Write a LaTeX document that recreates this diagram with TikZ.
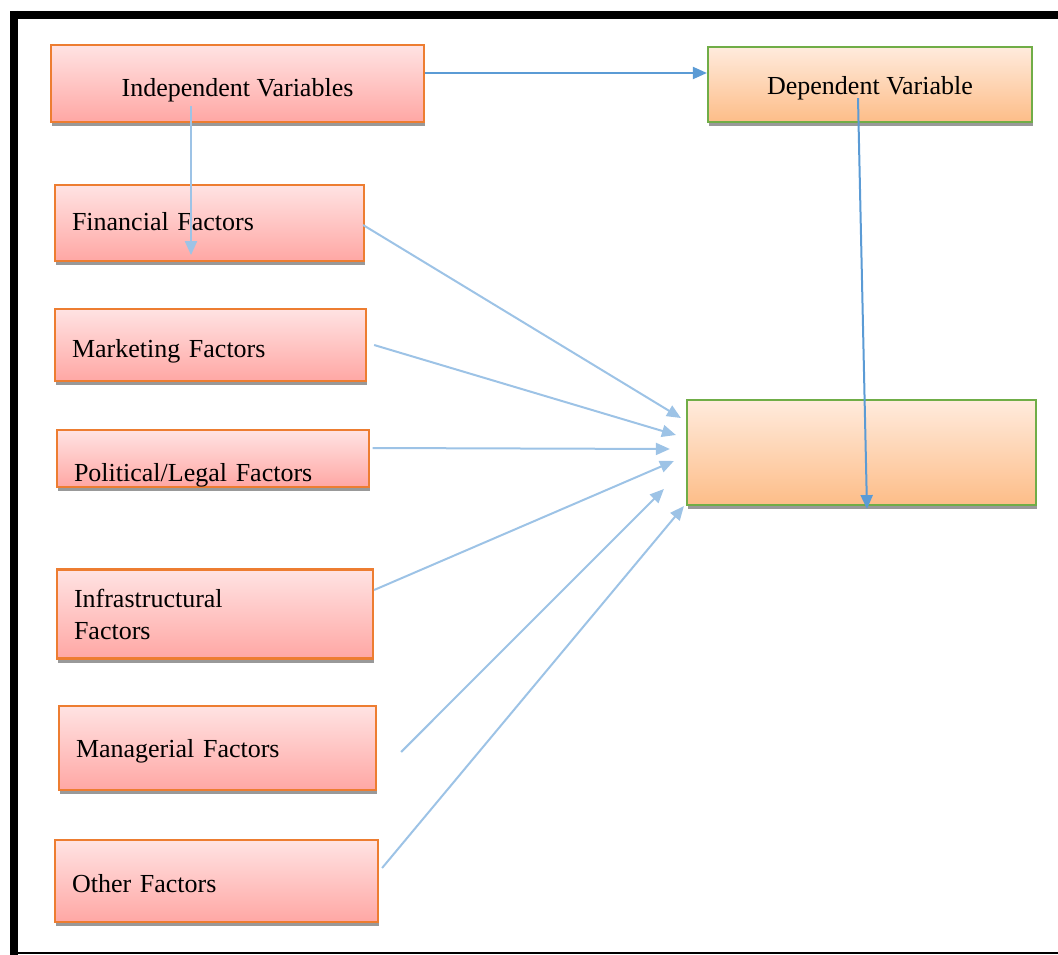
\documentclass[tikz,border=0pt]{standalone}
\usepackage{fontspec}
\setmainfont{Liberation Serif}
\usepackage{tikz}
\usetikzlibrary{calc,arrows.meta,shadows}
\definecolor{redtop}{HTML}{FFE3E3}
\definecolor{redbot}{HTML}{FFA7A4}
\definecolor{orgtop}{HTML}{FFEBDD}
\definecolor{orgbot}{HTML}{FDBD88}
\definecolor{redline}{HTML}{ED7D31}
\definecolor{grnline}{HTML}{70AD47}
\definecolor{lightarr}{HTML}{9DC3E6}
\definecolor{darkarr}{HTML}{5B9BD5}
\tikzset{
  box/.style={rectangle, line width=2.2pt, inner ysep=0pt,
    font=\fontsize{26}{32}\selectfont,
    drop shadow={shadow xshift=1pt, shadow yshift=-4pt, fill=black!40, opacity=1}},
  redbox/.style={box, draw=redline, top color=redtop, bottom color=redbot},
  orgbox/.style={box, draw=grnline, top color=orgtop, bottom color=orgbot},
  factor/.style={redbox, align=left, inner xsep=17pt, text width=#1},
  lowered/.style={text height=#1, text depth=6pt},
  arr/.style={draw=lightarr, line width=2pt, -{Triangle[length=14pt,width=12pt]}},
  darr/.style={arr, draw=darkarr},
}
\begin{document}
\begin{tikzpicture}[x=1pt, y=-1pt]
  \useasboundingbox (0,0) rectangle (1058,955);
  % frame
  \draw[line width=8pt] (10,15) -- (1058,15);
  \draw[line width=8pt] (14,11) -- (14,955);
  \draw[line width=2pt] (14,953) -- (1058,953);
  % top row
  \node[redbox, lowered=33pt, minimum width=373pt, minimum height=77pt] (iv) at (237.5,83.5) {Independent Variables};
  \node[orgbox, lowered=27pt, minimum width=324pt, minimum height=75pt] (dv) at (870,84.5) {Dependent Variable};
  \node[orgbox, minimum width=349pt, minimum height=105pt] (res) at (861.5,452.5) {};
  % factors
  \node[factor=275pt, lowered=20pt, minimum height=76pt] (fin) at (209.5,223) {Financial Factors};
  \node[factor=277pt, lowered=30pt, minimum height=72pt] (mkt) at (210.5,345) {Marketing Factors};
  \node[factor=278pt, lowered=51pt, minimum height=57pt] (pol) at (213,458.5) {Political/Legal Factors};
  \node[factor=282pt, minimum height=89pt] (inf) at (215,614) {Infrastructural\\Factors};
  \node[factor=283pt, lowered=24pt, minimum height=84pt] (mgr) at (217.5,748) {Managerial Factors};
  \node[factor=289pt, lowered=28pt, minimum height=82pt] (oth) at (216.5,881) {Other Factors};
  % connectors
  \draw[darr] ($(iv.east)+(0,-10.5)$) -- ($(dv.west)+(0,-11.5)$);
  \draw[arr] ($(iv.south)+(-46.5,-17)$) -- ($(fin.south)+(-18.5,-7)$);
  \draw[darr] ($(dv.south)+(-12,-25)$) -- ($(res.south)+(5.5,3)$);
  \draw[arr] ($(fin.east)+(-2,2)$) -- ($(res.west)+(-5,-34.5)$);
  \draw[arr] ($(mkt.east)+(7,0)$) -- ($(res.west)+(-10,-17.5)$);
  \draw[arr] ($(pol.east)+(2.5,-10.5)$) -- ($(res.west)+(-16,-3.5)$);
  \draw[arr] ($(inf.east)+(0,-24)$) -- ($(res.west)+(-12,8.5)$);
  \draw[arr] ($(mgr.east)+(24,4)$) -- ($(res.west)+(-22,36.5)$);
  \draw[arr] ($(oth.east)+(3,-13)$) -- ($(res.south west)+(-2,0)$);
\end{tikzpicture}
\end{document}
